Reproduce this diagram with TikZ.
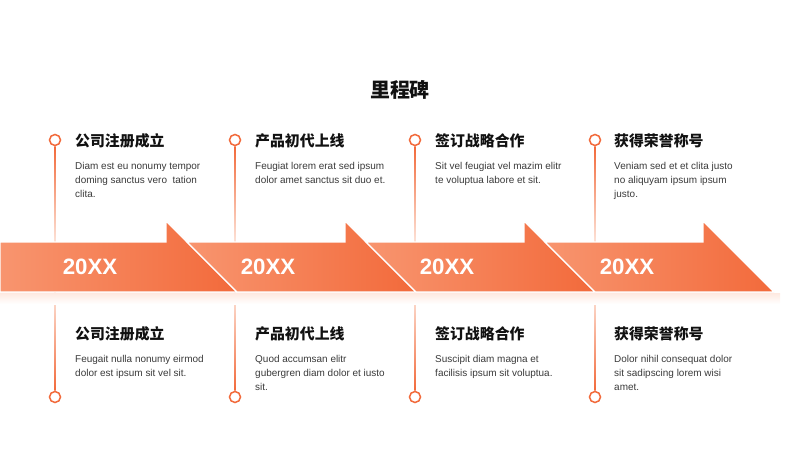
\documentclass[tikz,border=0pt]{standalone}
\usepackage{fontspec}
\setmainfont{Liberation Sans}
\newfontfamily\cjk{Noto Sans CJK SC}
\usetikzlibrary{positioning, calc}
\definecolor{accent}{HTML}{F26A3B}
\definecolor{accentlight}{HTML}{F8956F}
\definecolor{stemlight}{HTML}{FDE6DC}
\definecolor{glow}{HTML}{FEE9E0}
\definecolor{textmain}{HTML}{111111}
\definecolor{textdim}{HTML}{3A3A3A}

\begin{document}
\begin{tikzpicture}[x=0.03cm, y=-0.03cm,
    arrowbox/.style={left color=accentlight, right color=accent, draw=white,
                     line width=1.2pt, line join=miter},
    year/.style={text=white, font=\bfseries\fontsize{19}{19}\selectfont},
    dot/.style={circle, draw=accent, fill=white, line width=1.3pt,
                minimum size=0.33cm, inner sep=0pt},
    stemtop/.style={top color=accent, bottom color=stemlight},
    stembot/.style={top color=stemlight, bottom color=accent},
    head/.style={anchor=west, text=textmain, inner sep=0pt,
                 font=\cjk\bfseries\fontsize{12.7}{14}\selectfont},
    body/.style={anchor=north west, text=textdim, align=left, inner sep=0pt,
                 font=\fontsize{8.5}{11.9}\selectfont}
  ]
    \useasboundingbox (0,0) rectangle (800,450);

    % title
    \node[font=\cjk\bfseries\fontsize{17}{20}\selectfont, text=textmain] (title) at (400,90) {里程碑};

    % circles on the stems
    \node[dot] (c1t) at (55,140) {};
    \node[dot] (c2t) at (235,140) {};
    \node[dot] (c3t) at (415,140) {};
    \node[dot] (c4t) at (595,140) {};
    \node[dot] (c1b) at (55,397) {};
    \node[dot] (c2b) at (235,397) {};
    \node[dot] (c3b) at (415,397) {};
    \node[dot] (c4b) at (595,397) {};

    % stems
    \foreach \c in {1,2,3,4}{
      \shade[stemtop] ($(c\c t.south)+(-0.6,0)$) rectangle ($(c\c t.south |- 0,245)+(0.6,0)$);
      \shade[stembot] ($(c\c b.north |- 0,290)+(-0.6,0)$) rectangle ($(c\c b.north)+(0.6,0)$);
    }

    % glow under the band
    \shade[top color=glow, bottom color=white] (0,293) rectangle (780,304);

    % arrows
    \shade[arrowbox] (0,242) -- (166,242) -- (166,221) -- (237,292) -- (0,292) -- cycle;
    \shade[arrowbox] (187,242) -- (345,242) -- (345,221) -- (416,292) -- (237,292) -- cycle;
    \shade[arrowbox] (366,242) -- (524,242) -- (524,221) -- (595,292) -- (416,292) -- cycle;
    \shade[arrowbox] (545,242) -- (703,242) -- (703,221) -- (774,292) -- (595,292) -- cycle;

    \node[year] (y1) at (90,267) {20XX};
    \node[year] (y2) at (268,267) {20XX};
    \node[year] (y3) at (447,267) {20XX};
    \node[year] (y4) at (627,267) {20XX};

    % upper row
    \node[head] (h1t) at (75,141) {公司注册成立};
    \node[body, below=11.5pt of h1t.south west, anchor=north west] (b1t)
      {Diam est eu nonumy tempor\\doming sanctus vero\ \ tation\\clita.};
    \node[head] (h2t) at (255,141) {产品初代上线};
    \node[body, below=11.5pt of h2t.south west, anchor=north west] (b2t)
      {Feugiat lorem erat sed ipsum\\dolor amet sanctus sit duo et.};
    \node[head] (h3t) at (435,141) {签订战略合作};
    \node[body, below=11.5pt of h3t.south west, anchor=north west] (b3t)
      {Sit vel feugiat vel mazim elitr\\te voluptua labore et sit.};
    \node[head] (h4t) at (614,141) {获得荣誉称号};
    \node[body, below=11.5pt of h4t.south west, anchor=north west] (b4t)
      {Veniam sed et et clita justo\\no aliquyam ipsum ipsum\\justo.};

    % lower row
    \node[head] (h1b) at (75,334) {公司注册成立};
    \node[body, below=11.5pt of h1b.south west, anchor=north west] (b1b)
      {Feugait nulla nonumy eirmod\\dolor est ipsum sit vel sit.};
    \node[head] (h2b) at (255,334) {产品初代上线};
    \node[body, below=11.5pt of h2b.south west, anchor=north west] (b2b)
      {Quod accumsan elitr\\gubergren diam dolor et iusto\\sit.};
    \node[head] (h3b) at (435,334) {签订战略合作};
    \node[body, below=11.5pt of h3b.south west, anchor=north west] (b3b)
      {Suscipit diam magna et\\facilisis ipsum sit voluptua.};
    \node[head] (h4b) at (614,334) {获得荣誉称号};
    \node[body, below=11.5pt of h4b.south west, anchor=north west] (b4b)
      {Dolor nihil consequat dolor\\sit sadipscing lorem wisi\\amet.};
  \end{tikzpicture}
\end{document}
